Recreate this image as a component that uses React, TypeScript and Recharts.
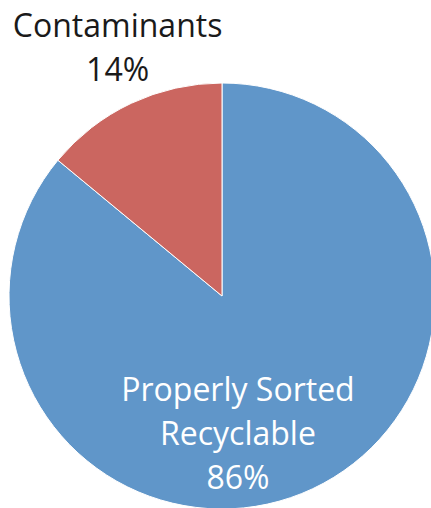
import React from 'react';
import { PieChart, Pie, Cell } from 'recharts';

const categories = ['Properly Sorted Recyclable', 'Contaminants'];
const shares = [86, 14];
const labelLines = [['Properly Sorted', 'Recyclable'], ['Contaminants']];

const colors = ['#6096C9', '#CB6660'];
const labelColors = ['#ffffff', '#1a1a1a'];
// first-baseline anchor of each label, as fractions of the radius from the centre
const labelAnchor = [
  { dx: 0.075, dy: 0.493 },
  { dx: -0.49, dy: -1.216 },
];

const data = categories.map((name, i) => ({ name, value: shares[i] }));

const FONT = '"Open Sans", Calibri, sans-serif';

function renderLabel(props: any) {
  const { cx, cy, outerRadius, index, value } = props;
  const a = labelAnchor[index];
  const x = cx + a.dx * outerRadius;
  const top = cy + a.dy * outerRadius;
  const lines = [...labelLines[index], `${value}%`];
  const lh = 44;
  return (
    <text x={x} y={top} textAnchor="middle" fill={labelColors[index]} fontFamily={FONT} fontSize={32}>
      {lines.map((l, i) => (
        <tspan key={i} x={x} y={top + i * lh}>
          {l}
        </tspan>
      ))}
    </text>
  );
}

export default function App() {
  return (
    <div style={{ position: 'fixed', top: 0, left: 0, width: 431, height: 508, background: '#fff', overflow: 'hidden' }}>
      <PieChart width={431} height={508} margin={{ top: 0, right: 0, bottom: 0, left: 0 }}>
        <Pie
          data={data}
          dataKey="value"
          nameKey="name"
          cx={222}
          cy={296}
          outerRadius={213}
          startAngle={90}
          endAngle={-270}
          stroke="#ffffff"
          strokeWidth={1}
          label={renderLabel}
          labelLine={false}
          isAnimationActive={false}
        >
          {data.map((d, i) => (
            <Cell key={d.name} fill={colors[i]} />
          ))}
        </Pie>
      </PieChart>
    </div>
  );
}
